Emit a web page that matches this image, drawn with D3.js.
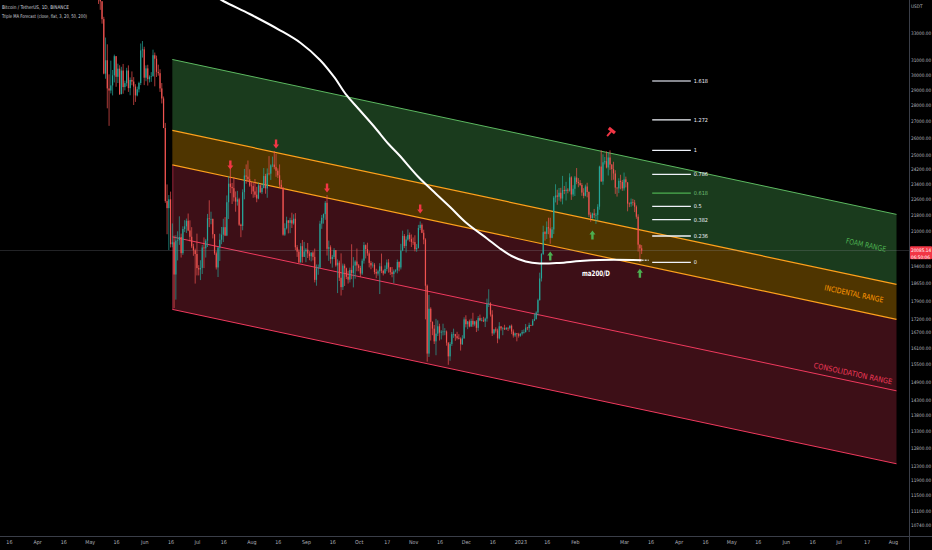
<!DOCTYPE html>
<html><head><meta charset="utf-8">
<script src="https://cdn.jsdelivr.net/npm/d3@7"></script>
<style>
html,body{margin:0;padding:0;background:#000;}
svg{display:block;}
text{font-family:"Liberation Sans Narrow","Arial Narrow","DejaVu Sans Condensed","Roboto Condensed","Liberation Sans",sans-serif;}
</style></head><body>
<svg id="c" width="932" height="550"></svg>
<script>
// ---------------- DATA ----------------
const symbolTitle = "Bitcoin / TetherUS, 1D, BINANCE";
const indicatorTitle = "Triple MA Forecast (close, flat, 3, 20, 50, 200)";
const startDate = "2022-05-06";   // first daily candle
const firstOpen = 36550;
const closes = [
36010,35470,34060,30080,31010,29080,28940,29280,29960,31300,29860,30420,28700,30290,29170,29430,30290,29100,29650,29540,29200,28620,29020,29440,31720,31790,
29800,30440,29700,29860,29900,31370,31120,30200,30110,29080,28420,26570,22490,22130,22580,20380,20470,19020,20550,20570,20720,19970,21100,21230,21500,21030,20730,20280,20100,19930,
19300,19240,19310,20230,20190,20550,21620,21590,21590,20850,19960,19330,20230,20590,20830,21190,20790,22430,23400,23230,23160,22680,22460,22580,21310,21250,22950,23840,23780,23640,23300,
23270,22990,22820,22620,23310,22950,23170,23810,23150,23950,23940,24400,24440,24300,24100,23850,23340,23190,20830,21140,21520,21400,21530,21370,21600,20240,20040,19550,20290,19800,20050,
20130,19950,19830,20000,19800,18790,19290,19320,21360,21650,21830,22400,20170,20240,19700,19800,20110,19420,19540,18880,18480,19410,19290,18920,18800,19220,19080,19410,19590,19420,
19310,19060,19630,20340,20160,19960,19530,19420,19450,19130,19060,19160,19380,19180,19070,19260,19550,19330,19120,19040,19160,19200,19570,19330,20090,20770,20300,20600,20820,20630,20490,
20480,20150,20210,21150,21300,20920,20600,18540,15880,17590,17070,16810,16330,16620,16900,16660,16690,16700,16700,16280,15780,16230,16600,16600,16520,16460,16430,16220,16440,17170,
16980,17090,16890,17110,16970,17090,16840,17220,17130,17130,17090,17200,17780,17810,17360,16630,16780,16740,16440,16900,16820,16830,16780,16840,16830,16920,16700,16550,16630,16600,16540,
16620,16680,16680,16850,16830,16950,16940,17120,17180,17440,17940,18850,19930,20950,20870,21190,21130,20680,21080,22670,22780,22710,22920,22620,23060,23010,23080,23030,23740,22830,23130,
23730,23490,23430,23330,22930,22760,23250,22960,21800,21630,21860,21780,21790,22200,24330,23520,24570,24630,24280,24840,24440,24190,23950,23190,23150,23550,23490,23150,
23630,23470,22360,22350,22430,22410,22200,21700,20360,20190,20085.14];
const highs = [
36650,36130,35500,34240,32660,32160,30030,30980,30330,31410,31300,30770,30660,30550,30750,29600,30480,30650,29820,30230,29840,29360,29200,29530,32220,32400,
31980,30650,30690,29960,30180,31770,31560,31340,30700,30380,29440,28550,26880,23360,22800,22980,21370,20790,20800,20990,21720,20880,21230,21530,21610,21860,21520,21190,20400,20180,
20880,19430,19650,20350,20700,20630,21840,22530,21950,21610,20860,20050,20250,20880,21200,21600,21680,22780,23800,24280,23440,23760,22990,23020,22660,21360,23100,24200,24450,24670,24180,
23500,23470,23650,23230,23460,23360,23410,24250,23930,24230,24920,24460,24890,25210,25050,24230,24450,23600,23210,21380,21700,21530,21650,21900,21820,21880,20340,20140,20430,20580,20490,
20200,20440,20060,20000,20060,20180,19460,19460,21500,21790,21860,22490,22800,20550,20330,19890,20200,20110,19690,19630,19960,19500,19490,19320,19180,19320,20380,19790,19650,20180,
19480,19400,19720,20480,20370,20450,20060,19620,19560,19520,19270,19230,19520,19950,19230,19420,19680,19700,19350,19350,19240,19250,19680,19600,20400,21020,20860,20750,21080,20930,20840,
20700,20800,20390,21300,21470,21370,21070,20660,18590,18150,17650,17090,16950,17190,17130,17000,16750,17000,16830,16740,16300,16300,16680,16810,16610,16690,16600,16480,16560,17250,
17330,17100,17160,17200,17430,17110,17140,17300,17360,17230,17270,17240,18000,18390,17850,17530,16800,16860,16810,17060,16900,16870,16960,16870,16860,16940,16970,16780,16660,16640,16650,
16630,16760,16780,16990,16880,17040,16960,17180,17400,17490,18000,19100,19970,21260,21000,21470,21650,21650,21190,22750,23370,23080,23170,23180,23820,23280,23500,23160,23960,23800,23320,
23810,24250,23700,23590,23430,23160,23350,23450,22990,21920,21900,22090,21880,22330,24380,25250,25020,24870,25190,25120,25250,24470,24600,24130,23210,23690,23880,23600,
24000,23780,23480,22420,22620,22600,22550,22270,21820,20370,20340];
const lows = [
35260,34790,33710,30030,29730,27790,26700,28750,28620,29480,29190,29440,28650,28700,28730,28950,29220,28850,28630,29290,28000,28200,28560,28820,29300,31200,
29300,29560,29270,29480,29520,29880,29220,29850,29940,28850,28100,26560,22400,20850,20110,20230,20240,17620,17960,19640,20350,19770,19890,20950,20910,21000,20510,20200,19850,18630,
18980,18980,18780,19040,19300,19770,20250,21190,21330,20650,19890,19240,18910,19620,20380,20480,20760,20760,21590,22900,22340,22470,21950,22260,21250,20710,21040,22580,23400,23500,23230,
22850,22660,22680,22430,22580,22900,22850,23150,22870,22660,23850,23600,24300,24180,23770,23700,23190,23110,20780,20770,21080,20890,20900,21150,21310,20110,19800,19520,19550,19540,19800,
19560,19750,19650,19600,19640,18680,18540,19010,19300,21110,21360,21550,19860,19620,19500,19320,19700,19360,18230,18740,18130,18360,18530,18820,18630,18680,18820,18470,18840,19160,
19160,18920,19000,19500,19730,19850,19330,19250,19320,19030,18860,18970,18190,19080,18980,19050,19160,19100,19000,18900,18650,19110,19070,19160,19240,20060,20200,20000,20550,20500,20250,
20350,20050,20030,20180,21050,20900,20380,17170,15590,15760,16360,16560,16230,15820,16530,16360,16400,16550,16560,16170,15480,15620,16160,16460,16350,16400,16400,15990,16200,16430,
16860,16790,16860,16880,16880,16900,16680,16730,17100,17090,17070,16870,17080,17660,17280,16530,16580,16660,16260,16400,16740,16560,16760,16770,16720,16780,16600,16470,16490,16330,16470,
16500,16550,16620,16660,16750,16680,16910,16910,17100,17160,17320,17920,18720,19880,20550,20620,20850,20400,20660,20860,22420,22300,22510,22460,22320,22850,22520,22890,22980,22550,22720,
22750,23370,23210,23270,22760,22630,22730,22680,21690,21450,21600,21630,21350,21530,22050,23500,23340,24450,24230,23840,24150,23580,23610,22860,22720,22900,23100,23020,
23030,23200,21970,22180,22200,22260,21930,21600,20040,19550,19930];

// 200-day MA
const maDates = ["2022-07-08","2022-07-15","2022-07-31","2022-08-17","2022-08-29","2022-09-09","2022-09-17","2022-09-24","2022-10-01","2022-10-10","2022-10-18","2022-10-24","2022-11-04","2022-11-12","2022-11-22","2022-12-01","2022-12-13","2022-12-20","2022-12-27","2023-01-04","2023-01-12","2023-01-23","2023-02-04","2023-02-15","2023-03-06","2023-03-11"];
const maValues = [36234,35580,34461,33226,32256,31029,29850,28649,27746,26630,25617,24982,23759,23039,22188,21418,20649,20206,19841,19593,19504,19531,19616,19661,19661,19650];

// channel (start / end of each line)
const channelDates = ["2022-06-17","2023-08-03"];
const channelTop = [31066,21816];
const channelIncTop = [26422,18597];
const channelIncBot = [24423,17171];
const channelMid = [20725,14587];
const channelBot = [17566,12350];
const rangeNames = ["FOAM RANGE","INCIDENTAL RANGE","CONSOLIDATION RANGE"];

// fibonacci
const fibLow = 19550, fibHigh = 25250;
const fibLevels = [0,0.236,0.382,0.5,0.618,0.786,1,1.272,1.618];
const fibDates = ["2023-03-17","2023-04-08"];

// signals
const sellDates = ["2022-07-20","2022-08-15","2022-09-13","2022-11-05"];
const sellPrices = [24419,25617,23170,22086];
const buyDates = ["2023-01-18","2023-02-11","2023-03-10"];
const buyPrices = [19841,20815,19073];
const hammerDate = "2023-02-21", hammerPrice = 26286;
const maLabel = "ma200/D", maLabelDate = "2023-02-13", maLabelPrice = 19086;

// axes
const priceTicks = [33000,31000,30000,29000,28000,27000,26000,25000,24200,23400,22600,21800,21000,19400,18650,17900,17200,16700,16100,15500,14900,14300,13800,13300,12800,12300,11900,11500,11100,10740];
const timeTicks = [["2022-03-16","16"],["2022-04-01","Apr"],["2022-04-16","16"],["2022-05-01","May"],["2022-05-16","16"],["2022-06-01","Jun"],["2022-06-16","16"],["2022-07-01","Jul"],["2022-07-16","16"],["2022-08-01","Aug"],["2022-08-16","16"],["2022-09-01","Sep"],["2022-09-16","16"],["2022-10-01","Oct"],["2022-10-17","17"],["2022-11-01","Nov"],["2022-11-16","16"],["2022-12-01","Dec"],["2022-12-16","16"],["2023-01-01","2023"],["2023-01-16","16"],["2023-02-01","Feb"],["2023-03-01","Mar"],["2023-03-16","16"],["2023-04-01","Apr"],["2023-04-16","16"],["2023-05-01","May"],["2023-05-16","16"],["2023-06-01","Jun"],["2023-06-16","16"],["2023-07-01","Jul"],["2023-07-17","17"],["2023-08-01","Aug"]];
const countdown = "06:50:06";

// ---------------- DRAW ----------------
const P = d3.utcParse("%Y-%m-%d");
const W = 932, H = 550, plotR = 909, plotB = 536;
const svg = d3.select("#c");
svg.append("rect").attr("width",W).attr("height",H).attr("fill","#000");

const x = d3.scaleUtc().domain([P("2022-04-01"),P("2023-08-01")]).range([37,893]);
const y = d3.scaleLog().domain([10740,33000]).range([525,33]);

svg.append("defs").append("clipPath").attr("id","plot")
  .append("rect").attr("x",0).attr("y",0).attr("width",plotR).attr("height",plotB);
const g = svg.append("g").attr("clip-path","url(#plot)");

// channel bands
const cx = channelDates.map(P);
function band(a,b){
  return [[x(cx[0]),y(a[0])],[x(cx[1]),y(a[1])],[x(cx[1]),y(b[1])],[x(cx[0]),y(b[0])]];
}
const poly = d3.line();
g.append("path").attr("d",poly(band(channelTop,channelIncTop))+"Z").attr("fill","#1a3b1d");
g.append("path").attr("d",poly(band(channelIncTop,channelIncBot))+"Z").attr("fill","#4f3500");
g.append("path").attr("d",poly(band(channelIncBot,channelBot))+"Z").attr("fill","#3d0f17");
function cline(a,col,w,op){
  g.append("line").attr("x1",x(cx[0])).attr("y1",y(a[0])).attr("x2",x(cx[1])).attr("y2",y(a[1]))
   .attr("stroke",col).attr("stroke-width",w).attr("opacity",op||1);
}
cline(channelTop,"#5cb860",1);
cline(channelIncTop,"#ffa21c",1.2);
cline(channelIncBot,"#ffa21c",1.2);
cline(channelMid,"#f03a5e",1);
cline(channelBot,"#f03a5e",1);
g.append("line").attr("x1",x(cx[0])+0.5).attr("x2",x(cx[0])+0.5).attr("y1",y(channelIncBot[0])).attr("y2",y(channelBot[0]))
  .attr("stroke","#f03a5e").attr("stroke-width",0.8).attr("opacity",0.6);

// price line
const last = closes[closes.length-1];
g.append("line").attr("x1",0).attr("x2",plotR).attr("y1",y(last)).attr("y2",y(last))
  .attr("stroke","#9598a1").attr("stroke-width",0.6).attr("opacity",0.45);

// candles
const d0 = P(startDate);
const candles = closes.map((c,i)=>({
  d: d3.utcDay.offset(d0,i), o: i===0?firstOpen:closes[i-1], c, h: highs[i], l: lows[i]
}));
const cg = g.append("g");
candles.forEach(k=>{
  const up = k.c >= k.o;
  const col = up ? "#26a69a" : "#ef5350";
  const xc = x(k.d);
  const top = Math.max(k.o,k.c), bot = Math.min(k.o,k.c);
  cg.append("line").attr("x1",xc).attr("x2",xc)
    .attr("y1",y(Math.max(k.h,top))).attr("y2",y(Math.min(k.l,bot)))
    .attr("stroke",col).attr("stroke-width",0.7);
  const y1 = y(top), y2 = y(bot);
  cg.append("rect").attr("x",xc-0.6).attr("width",1.2)
    .attr("y",y1).attr("height",Math.max(0.6,y2-y1)).attr("fill",col);
});

// MA line
const maPts = maDates.map((d,i)=>[x(P(d)),y(maValues[i])]);
g.append("path").attr("d",d3.line().curve(d3.curveCatmullRom.alpha(0.5))(maPts))
  .attr("fill","none").attr("stroke","#ffffff").attr("stroke-width",2);
const lastMa = maPts[maPts.length-1];
g.append("line").attr("x1",lastMa[0]).attr("x2",lastMa[0]+7).attr("y1",lastMa[1]).attr("y2",lastMa[1])
  .attr("stroke","#c8c8c8").attr("stroke-width",1.5).attr("stroke-dasharray","2,1");
g.append("text").attr("x",x(P(maLabelDate))).attr("y",y(maLabelPrice)).attr("dy","0.35em")
  .attr("text-anchor","middle").attr("fill","#fff").attr("font-size",7.5).attr("font-weight","bold")
  .attr("textLength",28).attr("lengthAdjust","spacingAndGlyphs").text(maLabel);

// fibonacci
const fx1 = x(P(fibDates[0])), fx2 = x(P(fibDates[1]));
fibLevels.forEach(lv=>{
  const p = Math.exp(Math.log(fibLow)+lv*(Math.log(fibHigh)-Math.log(fibLow)));
  const yy = y(p);
  const col = lv===0.618 ? "#4caf50" : (lv===1.618 ? "#b2b5be" : "#f0f3fa");
  g.append("line").attr("x1",fx1).attr("x2",fx2).attr("y1",yy).attr("y2",yy)
    .attr("stroke",col).attr("stroke-width",1.3);
  g.append("text").attr("x",fx2+3).attr("y",yy).attr("dy","0.35em")
    .attr("fill",lv===0.618?"#6fbf73":"#f0f3fa").attr("font-size",5.5).text(String(lv));
});

// range labels
const ang = Math.atan2(y(channelTop[1])-y(channelTop[0]), x(cx[1])-x(cx[0]))*180/Math.PI;
function lineY(a,px){
  const t=(px-x(cx[0]))/(x(cx[1])-x(cx[0]));
  return y(a[0])+t*(y(a[1])-y(a[0]));
}
const labelSpec = [
  {px:866, yy:(lineY(channelTop,866)+lineY(channelIncTop,866))/2+2, col:"#4caf50", len:41},
  {px:854, yy:(lineY(channelIncTop,854)+lineY(channelIncBot,854))/2+1, col:"#ff9800", len:60},
  {px:853, yy:lineY(channelMid,853)-8, col:"#f23a5a", len:80}
];
labelSpec.forEach((s,i)=>{
  g.append("text").attr("transform",`translate(${s.px},${s.yy}) rotate(${ang})`)
    .attr("text-anchor","middle").attr("dy","0.35em").attr("fill",s.col)
    .attr("font-size",7.5).attr("textLength",s.len).attr("lengthAdjust","spacingAndGlyphs").text(rangeNames[i]);
});

// signal arrows
function arrow(px,py,dir,col){
  // dir: 1 = down, -1 = up
  const hw=3, sw=1.2, hh=4, len=9;
  const tipY = py + dir*len/2;
  const baseY = tipY - dir*hh;
  const tailY = py - dir*len/2;
  const pts = [[px-sw,tailY],[px+sw,tailY],[px+sw,baseY],[px+hw,baseY],[px,tipY],[px-hw,baseY],[px-sw,baseY]];
  g.append("path").attr("d",d3.line()(pts)+"Z").attr("fill",col);
}
sellDates.forEach((d,i)=>arrow(x(P(d)),y(sellPrices[i]),1,"#f23645"));
buyDates.forEach((d,i)=>arrow(x(P(d)),y(buyPrices[i]),-1,"#4caf50"));
// hammer icon
{
  const hx=x(P(hammerDate)), hy=y(hammerPrice);
  const hg=g.append("g").attr("transform",`translate(${hx},${hy}) rotate(40)`);
  hg.append("rect").attr("x",-4).attr("y",-4.5).attr("width",8).attr("height",3.2).attr("fill","#f23645");
  hg.append("rect").attr("x",-0.9).attr("y",-1.5).attr("width",1.8).attr("height",6).attr("fill","#f23645");
}

// header
svg.append("text").attr("x",2).attr("y",7).attr("dy","0.35em").attr("fill","#d1d4dc").attr("font-size",5)
  .attr("textLength",67).attr("lengthAdjust","spacingAndGlyphs").text(symbolTitle);
svg.append("text").attr("x",2).attr("y",16).attr("dy","0.35em").attr("fill","#d1d4dc").attr("font-size",5)
  .attr("textLength",85).attr("lengthAdjust","spacingAndGlyphs").text(indicatorTitle);

// axes separators
svg.append("line").attr("x1",0).attr("x2",W).attr("y1",plotB+0.5).attr("y2",plotB+0.5).attr("stroke","#3a3e48").attr("stroke-width",1);
svg.append("line").attr("x1",plotR+0.5).attr("x2",plotR+0.5).attr("y1",0).attr("y2",H).attr("stroke","#3a3e48").attr("stroke-width",1);

// right price axis
const yAxis = d3.axisRight(y).tickValues(priceTicks).tickFormat(d3.format(".2f")).tickSize(0).tickPadding(0);
const ya = svg.append("g").attr("transform",`translate(${plotR+2},0)`).call(yAxis);
ya.select(".domain").remove();
ya.selectAll("text").attr("fill","#b2b5be").attr("font-size",4.7).attr("font-family",null);
svg.append("text").attr("x",plotR+2).attr("y",6).attr("dy","0.35em").attr("fill","#b2b5be").attr("font-size",4.7).text("USDT");

// last price tag
{
  const yy=y(last);
  svg.append("rect").attr("x",plotR+1).attr("y",yy-4.5).attr("width",W-plotR-1).attr("height",13).attr("fill","#f23645").attr("rx",1);
  svg.append("text").attr("x",plotR+2).attr("y",yy).attr("dy","0.35em").attr("fill","#fff").attr("font-size",4.7)
    .text(d3.format(".2f")(last));
  svg.append("text").attr("x",plotR+2).attr("y",yy+6.5).attr("dy","0.35em").attr("fill","#fff").attr("font-size",4.7)
    .text(countdown);
}

// bottom time axis
const xAxis = d3.axisBottom(x).tickValues(timeTicks.map(t=>P(t[0])))
  .tickFormat((d,i)=>timeTicks[i][1]).tickSize(0).tickPadding(0);
const xa = svg.append("g").attr("transform",`translate(0,${plotB+4})`).call(xAxis);
xa.select(".domain").remove();
xa.selectAll("text").attr("fill","#b2b5be").attr("font-size",5.3).attr("font-family",null);
</script>
</body></html>
